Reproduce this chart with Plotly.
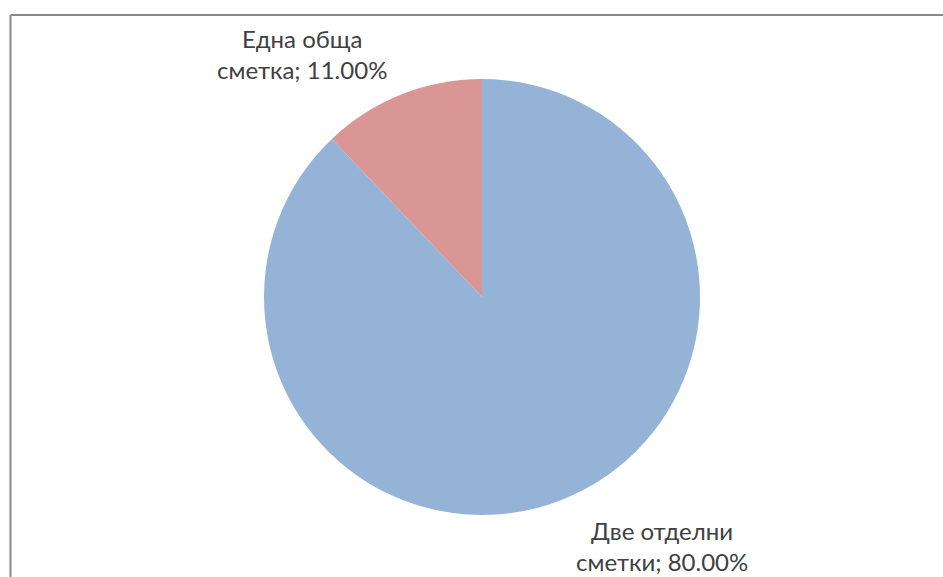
import plotly.graph_objects as go

# Survey answers and their shares (%)
labels = ["Две отделни сметки", "Една обща сметка"]
values = [80.0, 11.0]
colors = ["#95B3D7", "#D99694"]

W, H = 943, 577

fig = go.Figure(
    go.Pie(
        labels=labels,
        values=values,
        sort=False,
        direction="clockwise",
        rotation=0,
        marker=dict(colors=colors, line=dict(width=0)),
        textinfo="none",
        hoverinfo="label+value",
        showlegend=False,
        domain=dict(x=[264 / W, 700 / W], y=[62 / H, 498 / H]),
    )
)

# Data labels placed outside the pie (pixel centres of each two-line label)
label_pos = {
    "Една обща сметка": (302, 54),
    "Две отделни сметки": (662, 546),
}
for name, val in zip(labels, values):
    px, py = label_pos[name]
    words = name.split(" ")
    text = " ".join(words[:-1]) + "<br>" + words[-1] + f"; {val:.2f}%"
    fig.add_annotation(
        x=px / W, y=1 - py / H, xref="paper", yref="paper",
        text=text, showarrow=False, xanchor="center", yanchor="middle",
        align="center",
        font=dict(family="Lato, 'Noto Sans', sans-serif", size=24, color="#404040"),
    )

# Chart-area frame edges
fig.add_shape(type="line", xref="paper", yref="paper",
              x0=10.5 / W, x1=1, y0=1 - 15 / H, y1=1 - 15 / H,
              line=dict(color="#8a8a8a", width=2))
fig.add_shape(type="line", xref="paper", yref="paper",
              x0=10.5 / W, x1=10.5 / W, y0=0, y1=1 - 15 / H,
              line=dict(color="#8a8a8a", width=2))

fig.update_layout(
    width=W, height=H,
    margin=dict(l=0, r=0, t=0, b=0),
    paper_bgcolor="white",
    plot_bgcolor="white",
)

fig.write_html("out.html")
